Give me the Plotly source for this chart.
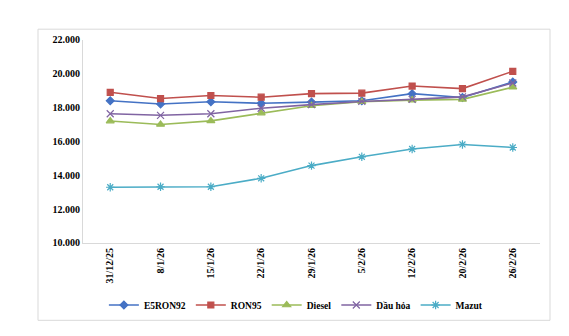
import plotly.graph_objects as go

dates = ["31/12/25", "8/1/26", "15/1/26", "22/1/26", "29/1/26", "5/2/26", "12/2/26", "20/2/26", "26/2/26"]
e5ron92 = [18400, 18210, 18340, 18250, 18320, 18400, 18820, 18590, 19510]
ron95 = [18900, 18530, 18710, 18610, 18820, 18850, 19270, 19120, 20140]
diesel = [17200, 17000, 17210, 17670, 18110, 18340, 18440, 18480, 19200]
dau_hoa = [17630, 17540, 17630, 17960, 18170, 18360, 18480, 18630, 19450]
mazut = [13290, 13320, 13320, 13820, 14570, 15090, 15550, 15820, 15640]

series = [
    ("E5RON92", e5ron92, "#4472C4", "diamond", 6),
    ("RON95", ron95, "#C0504D", "square", 6),
    ("Diesel", diesel, "#9BBB59", "triangle-up", 7),
    ("Dầu hỏa", dau_hoa, "#8064A2", "x-thin-open", 7),
    ("Mazut", mazut, "#4BACC6", "asterisk-open", 7),
]

fig = go.Figure()
for name, vals, color, sym, sz in series:
    fig.add_trace(go.Scatter(
        x=dates, y=vals, name=name, mode="lines+markers",
        line=dict(color=color, width=1.6),
        marker=dict(symbol=sym, size=sz, color=color, line=dict(color=color, width=1.2)),
    ))

serif = "Liberation Serif, Times New Roman, serif"
bold10 = dict(family=serif, size=10, color="#000000", weight="bold")

fig.update_layout(
    width=569, height=336,
    margin=dict(l=0, r=0, t=0, b=0),
    paper_bgcolor="white", plot_bgcolor="white",
    separators=",.",
    showlegend=True,
    font=dict(family=serif),
    legend=dict(orientation="h", x=0.52, xanchor="center", y=0.077, yanchor="middle",
                font=dict(family=serif, size=9.5, color="#000000", weight="bold"),
                itemwidth=30, tracegroupgap=0),
    xaxis=dict(domain=[83/569, 540/569], type="category", tickangle=-90,
               showline=True, linecolor="#d9d9d9", linewidth=1, showgrid=False,
               ticks="", tickfont=bold10, zeroline=False),
    yaxis=dict(domain=[(336-246)/336, (336-36)/336], range=[10000, 22000], dtick=2000,
               tickformat=",d", showline=True, linecolor="#d9d9d9", linewidth=1,
               showgrid=False, ticks="", zeroline=False, tickfont=bold10),
    shapes=[dict(type="rect", xref="paper", yref="paper",
                 x0=38/569, x1=550/569, y0=(336-326)/336, y1=(336-25)/336,
                 line=dict(color="#d9d9d9", width=1), fillcolor="rgba(0,0,0,0)")],
)

fig.write_html("out.html")
